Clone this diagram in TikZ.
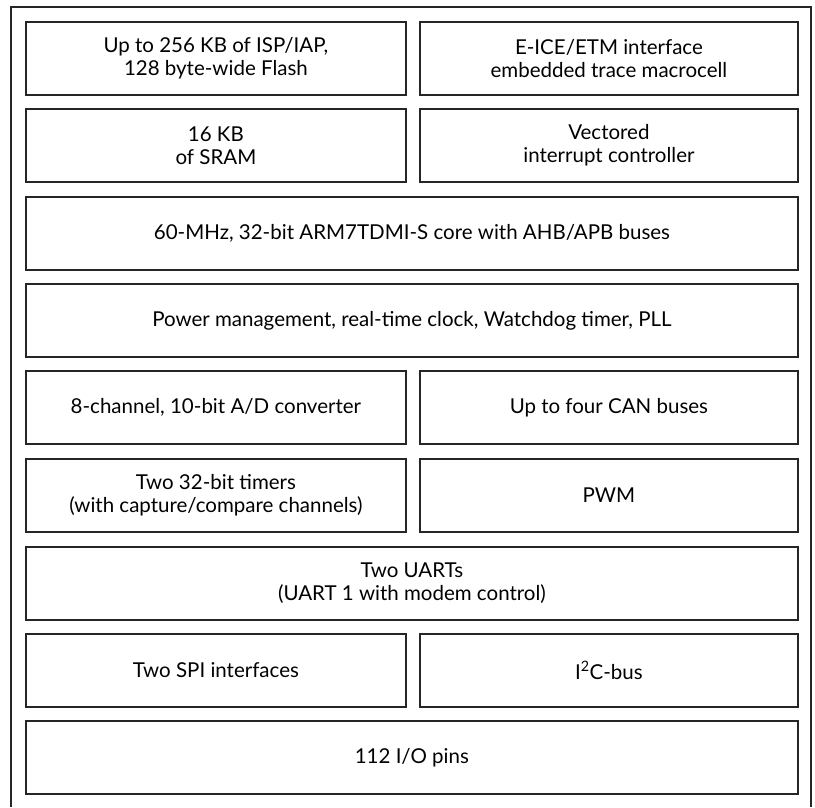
\documentclass[tikz,border=0pt]{standalone}
\usepackage{fontspec}
\setmainfont{Lato}
\tikzset{
    blk/.style={draw=black!85, line width=1.8pt, anchor=north west, align=center,
        minimum height=73pt, inner sep=0pt, font=\fontsize{20.5}{23}\selectfont},
    half/.style={blk, minimum width=380pt},
    halfr/.style={blk, minimum width=378pt},
    full/.style={blk, minimum width=772pt},
}
\begin{document}
\begin{tikzpicture}[x=1pt, y=-1pt]
    \useasboundingbox (0,0) rectangle (815,807);
    \draw[black!85, line width=1.5pt] (11,807) -- (11,7) -- (811,7) -- (811,807);
    \node[half] (1) at (25,21) {Up to 256 KB of ISP/IAP,\\128 byte-wide Flash};
    \node[halfr] (2) at (419,21) {E-ICE/ETM interface\\embedded trace macrocell};
    \node[half] (3) at (25,108) {16 KB\\of SRAM};
    \node[halfr] (4) at (419,108) {Vectored\\interrupt controller};
    \node[full] (5) at (25,196) {60-MHz, 32-bit ARM7TDMI-S core with AHB/APB buses};
    \node[full] (6) at (25,283) {Power management, real-time clock, Watchdog timer, PLL};
    \node[half] (7) at (25,370) {8-channel, 10-bit A/D converter};
    \node[halfr] (8) at (419,370) {Up to four CAN buses};
    \node[half] (9) at (25,458) {Two 32-bit timers\\(with capture/compare channels)};
    \node[halfr] (10) at (419,458) {PWM};
    \node[full] (11) at (25,546) {Two UARTs\\(UART 1 with modem control)};
    \node[half] (12) at (25,633) {Two SPI interfaces};
    \node[halfr] (13) at (419,633) {I\textsuperscript{2}C-bus};
    \node[full] (14) at (25,720) {112 I/O pins};
\end{tikzpicture}
\end{document}
